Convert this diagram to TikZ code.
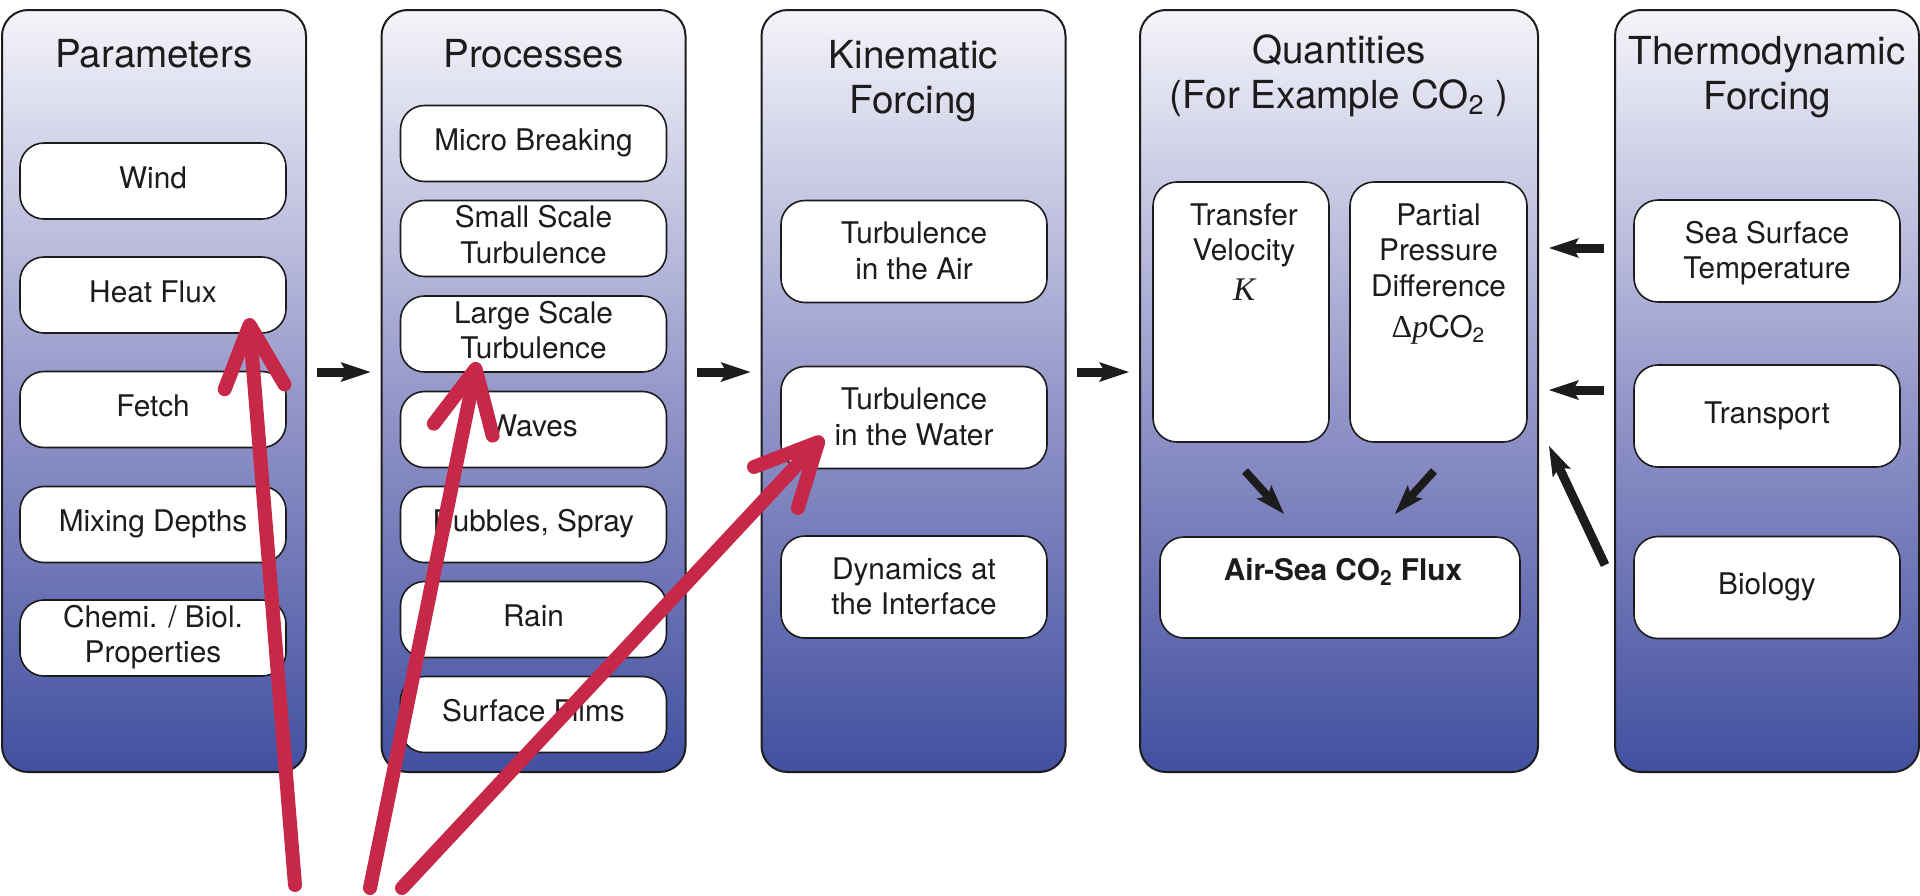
\documentclass[tikz,border=0pt]{standalone}
\usepackage{fontspec}
\setmainfont{TeX Gyre Heros}
\newfontfamily\serifface{Liberation Serif}
\usetikzlibrary{arrows.meta}

\definecolor{panelTop}{RGB}{244,244,250}
\definecolor{panelMid}{RGB}{150,152,202}
\definecolor{panelBot}{RGB}{66,80,160}
\definecolor{ink}{RGB}{28,28,28}
\definecolor{pointer}{RGB}{200,40,72}

\newcommand\titlefont{\fontsize{19.3}{22.5}\selectfont}
\newcommand\boxfont{\fontsize{14.9}{17.8}\selectfont}
\newcommand\linesof[1]{\begin{tabular}[t]{@{}c@{}}#1\end{tabular}}
\newcommand\lowlines[1]{\raisebox{-1.5pt}[\height][\depth]{\linesof{#1}}}

\tikzset{
  panel/.style={draw=ink, line width=1pt, rounded corners=13pt,
    top color=panelTop, bottom color=panelBot, middle color=panelMid,
    minimum width=152pt, minimum height=381pt, inner sep=0pt},
  box/.style={draw=ink, line width=0.8pt, fill=white, rounded corners=12pt,
    minimum width=133pt, minimum height=38pt, inner sep=0pt,
    font=\boxfont, text=ink},
  tallbox/.style={box, minimum height=51pt},
  title/.style={anchor=base, inner sep=0pt, font=\titlefont, text=ink},
  label/.style={anchor=base, inner sep=0pt, font=\boxfont, text=ink},
  flow/.style={draw=ink, line width=4.5pt,
    -{Stealth[length=15pt, width=10pt, inset=3pt, line width=0pt]}},
  gap/.style={shorten <=5pt, shorten >=5pt},
  pointer/.style={draw=pointer, line width=7pt, line cap=round,
    -{Straight Barb[length=31pt, width=30pt, round]}},
}

\begin{document}
\begin{tikzpicture}[x=0.5pt, y=-0.5pt]
\useasboundingbox (0,0) rectangle (1920,895);

% column panels
\node[panel] (p1) at (154,391) {};
\node[panel] (p2) at (533.5,391) {};
\node[panel] (p3) at (913.5,391) {};
\node[panel, minimum width=199pt] (p4) at (1339,391) {};
\node[panel] (p5) at (1767,391) {};

% column headings
\node[title] (t1) at (154,67) {Parameters};
\node[title] (t2) at (533.5,67) {Processes};
\node[title] (t3) at (913.5,68) {\linesof{Kinematic\\Forcing}};
\node[title] (t4) at (1339,63) {\linesof{Quantities\\(For Example CO\textsubscript{2} )}};
\node[title] (t5) at (1767,64) {\linesof{Thermodynamic\\Forcing}};

% parameters
\node[box] (wind)  at (153,181)   {\linesof{Wind}};
\node[box] (heat)  at (153,295)   {\linesof{Heat Flux}};
\node[box] (fetch) at (153,409.5) {\linesof{Fetch}};
\node[box] (mix)   at (153,524.5) {\linesof{Mixing Depths}};
\node[box] (chem)  at (153,638)   {\linesof{Chemi. / Biol.\\Properties}};

% processes
\node[box] (micro)   at (533.5,143.5) {\linesof{Micro Breaking}};
\node[box] (small)   at (533.5,238.5) {\linesof{Small Scale\\Turbulence}};
\node[box] (large)   at (533.5,334)   {\linesof{Large Scale\\Turbulence}};
\node[box] (waves)   at (533.5,429.5) {\linesof{Waves}};
\node[box] (bubbles) at (533.5,524.5) {\linesof{Bubbles, Spray}};
\node[box] (rain)    at (533.5,619.5) {\linesof{Rain}};
\node[box] (films)   at (533.5,714.5) {\linesof{Surface Films}};

% kinematic forcing
\node[tallbox] (air)   at (914,251.5) {\lowlines{Turbulence\\in the Air}};
\node[tallbox] (water) at (914,417.5) {\lowlines{Turbulence\\in the Water}};
\node[tallbox] (dyn)   at (914,587)   {\lowlines{Dynamics at\\the Interface}};

% quantities
\node[box, minimum width=88pt, minimum height=130pt] (kv) at (1241,312) {};
\node[box, minimum width=88.5pt, minimum height=130pt] (dp) at (1438.5,312) {};
\node[box, minimum width=180pt, minimum height=50.5pt] (flux) at (1340,587.5) {};
\node[label] (kvtext) at (1244,225)
  {\linesof{Transfer\\Velocity\\[2pt]{\serifface\itshape\fontsize{16.5}{18}\selectfont K}}};
\node[label] (dptext) at (1438.5,225)
  {\linesof{Partial\\Pressure\\Difference\\[3pt]{\serifface\fontsize{16}{18}\selectfont Δ\itshape p}CO\textsubscript{2}}};
\node[label, font=\boxfont\bfseries] (fluxtext) at (1343,580) {Air-Sea CO\textsubscript{2} Flux};

% thermodynamic forcing
\node[tallbox] (sst)   at (1767,251)   {\lowlines{Sea Surface\\Temperature}};
\node[tallbox] (trans) at (1767,416)   {\linesof{Transport}};
\node[tallbox] (bio)   at (1767,587.5) {\linesof{Biology}};

% flow between columns
\coordinate (row)    at (0,372);
\coordinate (sstrow) at (0,248);
\coordinate (trrow)  at (0,390);
\draw[flow, gap] (p1.east |- row) -- (p2.west |- row);
\draw[flow, gap] (p2.east |- row) -- (p3.west |- row);
\draw[flow, gap] (p3.east |- row) -- (p4.west |- row);
\draw[flow, gap] (p5.west |- sstrow) -- (p4.east |- sstrow);
\draw[flow, gap] (p5.west |- trrow) -- (p4.east |- trrow);
\coordinate (bioTail) at (1605,565);
\coordinate (bioTip)  at (1549,446);
\draw[flow] (bioTail) -- (bioTip);

% both quantities feed the flux
\coordinate (kvTail) at (1245,471);
\coordinate (kvTip)  at (1284,514);
\coordinate (dpTail) at (1434,471);
\coordinate (dpTip)  at (1395,514);
\draw[flow, line width=4pt] (kvTail) -- (kvTip);
\draw[flow, line width=4pt] (dpTail) -- (dpTip);

% red pointers
\coordinate (penA) at (295,885);
\coordinate (tipA) at (249,318);
\coordinate (penB) at (370,888);
\coordinate (tipB) at (477,362);
\coordinate (penC) at (402,888);
\coordinate (tipC) at (823,437);
\draw[pointer] (penA) -- (tipA);
\draw[pointer] (penB) -- (tipB);
\draw[pointer] (penC) -- (tipC);
\end{tikzpicture}
\end{document}
